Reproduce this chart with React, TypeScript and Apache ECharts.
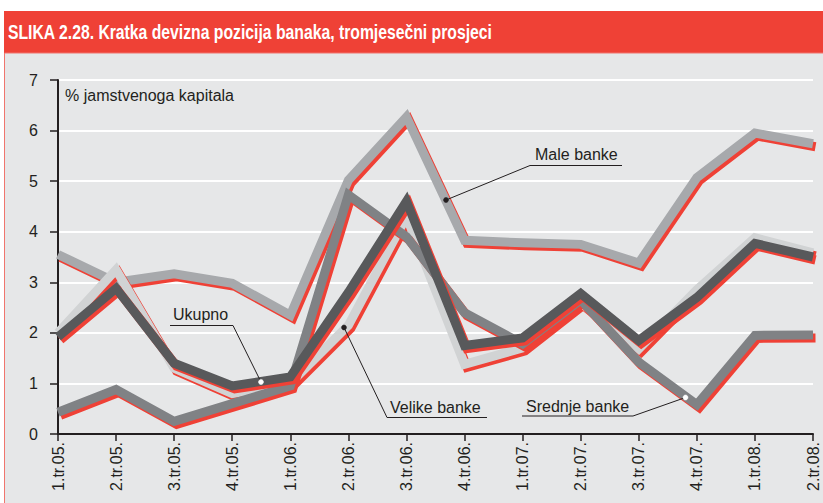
import React, { useEffect, useRef } from "react";
import * as echarts from "echarts";

const categories = [
  "1.tr.05.", "2.tr.05.", "3.tr.05.", "4.tr.05.",
  "1.tr.06.", "2.tr.06.", "3.tr.06.", "4.tr.06.",
  "1.tr.07.", "2.tr.07.", "3.tr.07.", "4.tr.07.",
  "1.tr.08.", "2.tr.08.",
];
const maleBanke = [3.55, 3.0, 3.17, 2.98, 2.35, 5.02, 6.27, 3.83, 3.78, 3.75, 3.38, 5.07, 5.95, 5.74];
const velikeBanke = [2.0, 3.25, 1.3, 0.8, 1.0, 2.15, 4.3, 1.38, 1.7, 2.6, 1.68, 2.85, 3.88, 3.58];
const srednjeBanke = [0.43, 0.88, 0.25, 0.6, 0.95, 4.73, 3.9, 2.4, 1.78, 2.65, 1.42, 0.58, 1.95, 1.96];
const ukupno = [1.92, 2.88, 1.4, 0.95, 1.13, 2.8, 4.6, 1.75, 1.9, 2.78, 1.85, 2.7, 3.77, 3.5];
const yTicks = { min: 0, max: 7, interval: 1 };

const TITLE = "SLIKA 2.28. Kratka devizna pozicija banaka, tromjesečni prosjeci";
const UNIT = "% jamstvenoga kapitala";

const RED = "#EF4136";
const INK = "#231F20";
const FONT = '"Liberation Sans", Arial, sans-serif';

const seriesDefs = [
  { name: "Male banke", data: maleBanke, color: "#A7A9AC" },
  { name: "Velike banke", data: velikeBanke, color: "#D1D3D4" },
  { name: "Srednje banke", data: srednjeBanke, color: "#808285" },
  { name: "Ukupno", data: ukupno, color: "#58595B" },
];

export default function App() {
  const ref = useRef<HTMLDivElement>(null);
  useEffect(() => {
    if (!ref.current) return;
    const chart = echarts.init(ref.current, undefined, { renderer: "svg" });
    const grid0 = { left: 58, right: 10, top: 80, bottom: 69 };
    const grid1 = { left: 60.5, right: 7.5, top: 83, bottom: 66 };

    const series: any[] = [];
    seriesDefs.forEach((s, i) => {
      series.push({
        type: "line",
        name: s.name + " sjena",
        xAxisIndex: 1,
        yAxisIndex: 1,
        data: s.data,
        symbol: "none",
        silent: true,
        z: 10 + i * 2,
        lineStyle: { color: RED, width: 9, join: "miter", miterLimit: 10 },
      });
      series.push({
        type: "line",
        name: s.name,
        xAxisIndex: 0,
        yAxisIndex: 0,
        data: s.data,
        symbol: "none",
        z: 11 + i * 2,
        lineStyle: { color: s.color, width: 9, join: "miter", miterLimit: 10 },
      });
    });

    const labelStyle = { fontFamily: FONT, fontSize: 16, color: INK };
    const txt = (text: string, x: number, y: number) => ({
      type: "text",
      x,
      y,
      z: 200,
      style: { text, fill: INK, font: `16px ${FONT}`, textAlign: "left", textVerticalAlign: "middle" },
    });
    const pl = (points: number[][]) => ({
      type: "polyline",
      z: 200,
      shape: { points },
      style: { stroke: INK, lineWidth: 1, fill: null },
    });
    const dot = (x: number, y: number, fill: string) => ({
      type: "circle",
      z: 201,
      shape: { cx: x, cy: y, r: 2.5 },
      style: { fill, stroke: fill === "#ffffff" ? "#ffffff" : INK, lineWidth: 0.5 },
    });

    chart.setOption({
      animation: false,
      backgroundColor: "#ffffff",
      grid: [grid0, grid1],
      xAxis: [
        {
          type: "category",
          data: categories,
          boundaryGap: false,
          gridIndex: 0,
          axisLine: { lineStyle: { color: INK, width: 2 } },
          axisTick: { show: true, length: 7, lineStyle: { color: INK, width: 1.5 }, alignWithLabel: true },
          axisLabel: { ...labelStyle, rotate: 90, margin: 8, interval: 0 },
          splitLine: { show: false },
          z: 50,
        },
        { type: "category", data: categories, boundaryGap: false, gridIndex: 1, show: false },
      ],
      yAxis: [
        {
          type: "value",
          gridIndex: 0,
          ...yTicks,
          axisLine: { show: true, lineStyle: { color: INK, width: 2 } },
          axisTick: { show: true, length: 8, lineStyle: { color: INK, width: 1.5 } },
          axisLabel: { ...labelStyle, margin: 20 },
          splitLine: { show: true, lineStyle: { color: "#ffffff", width: 2 } },
        },
        { type: "value", gridIndex: 1, ...yTicks, show: false },
      ],
      series,
      graphic: [
        { type: "rect", z: -100, silent: true, shape: { x: 4, y: 11, width: 830, height: 42 }, style: { fill: RED } },
        {
          type: "rect",
          z: -100,
          silent: true,
          shape: { x: 4.5, y: 53, width: 830, height: 470 },
          style: { fill: "#E6E7E8", stroke: "#F0756D", lineWidth: 1 },
        },
        {
          type: "text",
          x: 8,
          y: 32,
          z: 200,
          scaleX: 0.75,
          style: {
            text: TITLE,
            fill: "#ffffff",
            font: `bold 21px ${FONT}`,
            textAlign: "left",
            textVerticalAlign: "middle",
          },
        },
        txt(UNIT, 65, 95),
        // Male banke
        txt("Male banke", 535, 154),
        pl([[446, 200], [530, 165.5], [622, 165.5]]),
        dot(446, 200, INK),
        // Ukupno
        txt("Ukupno", 173, 314),
        pl([[170, 325.5], [233, 325.5], [261, 382]]),
        dot(261, 382, "#ffffff"),
        // Velike banke
        txt("Velike banke", 390, 407),
        pl([[344, 327.5], [387, 417.5], [487, 417.5]]),
        dot(344, 327.5, INK),
        // Srednje banke
        txt("Srednje banke", 526, 406),
        pl([[522, 416], [633, 416], [685.5, 397.5]]),
        dot(685.5, 397.5, "#ffffff"),
      ],
    });
    return () => chart.dispose();
  }, []);
  return (
    <div
      ref={ref}
      style={{ position: "fixed", left: 0, top: 0, width: 823, height: 503 }}
    />
  );
}
